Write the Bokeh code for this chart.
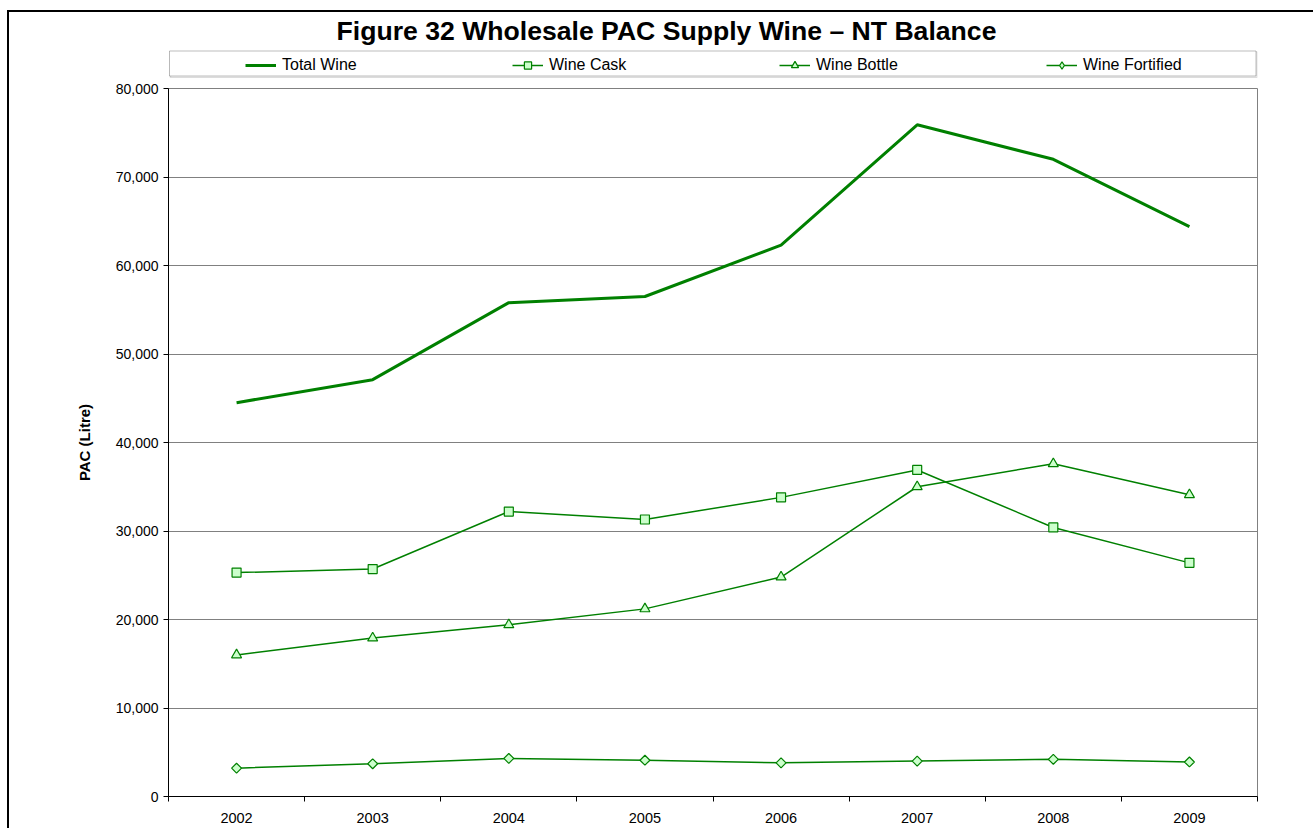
from bokeh.plotting import figure
from bokeh.layouts import column
from bokeh.models import (Range1d, FixedTicker, NumeralTickFormatter, Legend, LegendItem,
                          ColumnDataSource, BoxAnnotation, Label)
from bokeh.embed import file_html
from bokeh.resources import INLINE

# ---- data ----
years = ["2002", "2003", "2004", "2005", "2006", "2007", "2008", "2009"]
total_wine = [44500, 47100, 55800, 56500, 62300, 75900, 72000, 64400]
wine_cask = [25300, 25700, 32200, 31300, 33800, 36900, 30400, 26400]
wine_bottle = [16000, 17900, 19400, 21200, 24800, 35000, 37600, 34100]
wine_fortified = [3200, 3700, 4300, 4100, 3800, 4000, 4200, 3900]
y_ticks = [0, 10000, 20000, 30000, 40000, 50000, 60000, 70000, 80000]
series_names = ["Total Wine", "Wine Cask", "Wine Bottle", "Wine Fortified"]

title_text = "Figure 32 Wholesale PAC Supply Wine \u2013 NT Balance"
y_label = "PAC (Litre)"

# ---- layout constants (page pixels) ----
OX, OY = 9, 12            # content origin after css margin + border
W = 1304
TOP_H = 66                # header (title + legend) canvas height
MAIN_Y = OY + TOP_H       # page y where main canvas starts
FRAME_LEFT, FRAME_TOP, FRAME_W, FRAME_H = 168, 88, 1089, 708
ML = FRAME_LEFT - OX
MT = FRAME_TOP - MAIN_Y
MR = W - ML - FRAME_W
MB = 32
MAIN_H = MT + FRAME_H + MB
Y_MAX = y_ticks[-1]
N = len(years)

FONT = "Liberation Sans"
GREEN = "#008000"
LIGHT = "#ccffcc"

# ================= header figure: title + legend =================
# x in page pixels (header frame is aligned with main frame), y in canvas pixels from top
hdr = figure(width=W, height=TOP_H, output_backend="svg", toolbar_location=None,
             x_range=Range1d(FRAME_LEFT, FRAME_LEFT + FRAME_W), y_range=Range1d(TOP_H, 0),
             x_axis_type=None, y_axis_type=None, title=None,
             min_border_left=ML, min_border_right=MR, min_border_top=0, min_border_bottom=0)
hdr.outline_line_color = None
hdr.grid.visible = False
hdr.background_fill_color = "white"
hdr.border_fill_color = "white"

hdr.add_layout(Label(x=666, y=30 - OY, text=title_text, text_align="center",
                     text_baseline="middle", text_font=FONT, text_font_size="26.6px",
                     text_font_style="bold", text_color="black"))
# legend box with a soft shadow
hdr.add_layout(BoxAnnotation(left=FRAME_LEFT + 2, right=FRAME_LEFT + FRAME_W - 0.5,
                             top=51.5 - OY, bottom=77 - OY,
                             fill_alpha=0, line_color="#8a8a8a", line_width=1.5))
hdr.add_layout(BoxAnnotation(left=FRAME_LEFT + 1, right=FRAME_LEFT + FRAME_W - 1.5,
                             top=50.5 - OY, bottom=75.5 - OY,
                             fill_color="white", fill_alpha=1,
                             line_color="#222222", line_width=1))

nan = float("nan")
dummy = ColumnDataSource(dict(x=[nan], y=[nan]))
l_total = hdr.line("x", "y", source=dummy, line_color=GREEN, line_width=3)
l_cask = hdr.line("x", "y", source=dummy, line_color=GREEN, line_width=1.5)
m_cask = hdr.scatter("x", "y", source=dummy, marker="square", size=7,
                     fill_color=LIGHT, line_color=GREEN, line_width=1.2)
l_bot = hdr.line("x", "y", source=dummy, line_color=GREEN, line_width=1.5)
m_bot = hdr.scatter("x", "y", source=dummy, marker="triangle", size=8,
                    fill_color=LIGHT, line_color=GREEN, line_width=1.2)
l_fort = hdr.line("x", "y", source=dummy, line_color=GREEN, line_width=1.5)
m_fort = hdr.scatter("x", "y", source=dummy, marker="diamond", size=10,
                     fill_color=LIGHT, line_color=GREEN, line_width=1.2)

legend = Legend(items=[
    LegendItem(label=series_names[0], renderers=[l_total]),
    LegendItem(label=series_names[1], renderers=[l_cask, m_cask]),
    LegendItem(label=series_names[2], renderers=[l_bot, m_bot]),
    LegendItem(label=series_names[3], renderers=[l_fort, m_fort]),
], orientation="horizontal", location=(245 - FRAME_LEFT, TOP_H - (74 - OY)),
    border_line_color=None, background_fill_alpha=0,
    glyph_width=31, glyph_height=18, label_height=18, label_width=102,
    label_standoff=6, spacing=128, padding=0, margin=0,
    label_text_font=FONT, label_text_font_size="16px", label_text_color="black")
hdr.add_layout(legend, "center")

# ================= main figure =================
x = [i + 0.5 for i in range(N)]
src = ColumnDataSource(dict(x=x, total=total_wine, cask=wine_cask,
                            bottle=wine_bottle, fort=wine_fortified))

p = figure(width=W, height=MAIN_H, output_backend="svg", toolbar_location=None,
           x_range=Range1d(0, N), y_range=Range1d(0, Y_MAX),
           min_border_left=ML, min_border_right=MR, min_border_top=MT,
           min_border_bottom=MB, title=None)
p.background_fill_color = "white"
p.border_fill_color = "white"
p.outline_line_color = "#808080"
p.outline_line_width = 1

p.xaxis.ticker = FixedTicker(ticks=x, minor_ticks=list(range(N + 1)))
p.xaxis.major_label_overrides = {xi: yr for xi, yr in zip(x, years)}
p.xaxis.major_tick_line_color = None
p.xaxis.major_tick_out = 0
p.xaxis.major_tick_in = 0
p.xaxis.minor_tick_in = 0
p.xaxis.minor_tick_out = 5
p.xaxis.minor_tick_line_color = "black"
p.xaxis.axis_line_color = "black"
p.xaxis.major_label_standoff = 11
p.xaxis.major_label_text_font = FONT
p.xaxis.major_label_text_font_size = "14.5px"
p.xaxis.major_label_text_color = "black"

p.yaxis.ticker = FixedTicker(ticks=y_ticks)
p.yaxis.formatter = NumeralTickFormatter(format="0,0")
p.yaxis.major_tick_in = 0
p.yaxis.major_tick_out = 5
p.yaxis.major_tick_line_color = "black"
p.yaxis.minor_tick_line_color = None
p.yaxis.axis_line_color = "black"
p.yaxis.major_label_standoff = 5
p.yaxis.major_label_text_font = FONT
p.yaxis.major_label_text_font_size = "14px"
p.yaxis.major_label_text_color = "black"
p.yaxis.axis_label = y_label
p.yaxis.axis_label_text_font = FONT
p.yaxis.axis_label_text_font_size = "15px"
p.yaxis.axis_label_text_font_style = "bold"
p.yaxis.axis_label_text_color = "black"
p.yaxis.axis_label_standoff = 20

p.xgrid.visible = False
p.ygrid.ticker = FixedTicker(ticks=y_ticks)
p.ygrid.grid_line_color = "#808080"
p.ygrid.grid_line_width = 1

p.line("x", "total", source=src, line_color=GREEN, line_width=3)
p.line("x", "cask", source=src, line_color=GREEN, line_width=1.5)
p.scatter("x", "cask", source=src, marker="square", size=9,
          fill_color=LIGHT, line_color=GREEN, line_width=1.2)
p.line("x", "bottle", source=src, line_color=GREEN, line_width=1.5)
p.scatter("x", "bottle", source=src, marker="triangle", size=10,
          fill_color=LIGHT, line_color=GREEN, line_width=1.2)
p.line("x", "fort", source=src, line_color=GREEN, line_width=1.5)
p.scatter("x", "fort", source=src, marker="square", size=7, angle=0.785398,
          fill_color=LIGHT, line_color=GREEN, line_width=1.2)

layout = column(hdr, p, spacing=0,
                styles={"margin-left": "7px", "margin-top": "10px",
                        "border-left": "2px solid black", "border-top": "2px solid black",
                        "border-right": "none", "border-bottom": "none",
                        "outline": "none", "box-shadow": "none", "overflow": "hidden"})

open("out.html", "w").write(file_html(layout, INLINE))
